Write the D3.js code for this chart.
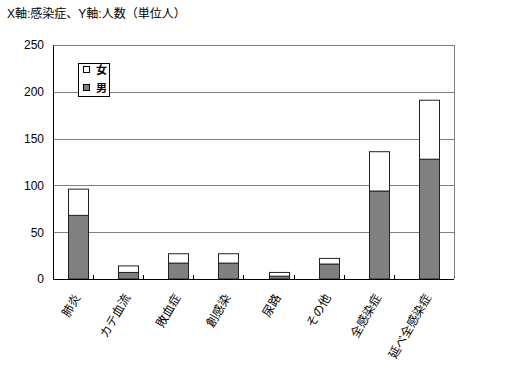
<!DOCTYPE html>
<html>
<head>
<meta charset="utf-8">
<script src="https://cdn.jsdelivr.net/npm/d3@7"></script>
<style>
  body { margin: 0; background: #fff; }
  text { font-family: "Liberation Sans", "Noto Sans CJK JP", sans-serif; }
</style>
</head>
<body>
<div class="chart"></div>
<script>
// categories and counts (persons)
var categories = ["肺炎", "カテ血流", "敗血症", "創感染", "尿路", "その他", "全感染症", "延べ全感染症"];
var male = [68, 7, 17, 17, 3, 16, 94, 128];
var female = [28, 7, 10, 10, 4, 6, 42, 63];
var yTicks = [0, 50, 100, 150, 200, 250];

var width = 520, height = 372;
var margin = {top: 45, right: 66, bottom: 93, left: 53};
var w = width - margin.left - margin.right;
var h = height - margin.top - margin.bottom;

var svg = d3.select(".chart").append("svg")
  .attr("width", width)
  .attr("height", height);

// title
svg.append("text")
  .attr("x", 7)
  .attr("y", 18)
  .attr("font-size", 12)
  .attr("fill", "#000")
  .text("X軸:感染症、Y軸:人数（単位人）");

var g = svg.append("g")
  .attr("transform", "translate(" + margin.left + "," + margin.top + ")");

var x = d3.scaleBand().domain(categories).range([0, w]).paddingInner(0.6).paddingOuter(0.3);
var y = d3.scaleLinear().domain([0, 250]).range([h, 0]);

// gridlines
g.selectAll(".grid")
  .data(yTicks.slice(1))
  .enter().append("line")
  .attr("x1", 0).attr("x2", w)
  .attr("y1", function(d) { return Math.round(y(d)) + 0.5; })
  .attr("y2", function(d) { return Math.round(y(d)) + 0.5; })
  .attr("stroke", "#808080")
  .attr("stroke-width", 1);

// right border
g.append("line")
  .attr("x1", w + 0.5).attr("x2", w + 0.5)
  .attr("y1", 0).attr("y2", h)
  .attr("stroke", "#808080");

// y axis labels
var yAxis = d3.axisLeft(y).tickValues(yTicks).tickSize(0).tickPadding(9);
var ya = g.append("g").call(yAxis);
ya.select(".domain").attr("stroke", "#000");
ya.selectAll("text").attr("font-size", 12).attr("fill", "#000")
  .attr("font-family", "Liberation Sans, sans-serif");

// stacked data
var stackData = categories.map(function(c, i) {
  return {cat: c, male: male[i], female: female[i]};
});
var series = d3.stack().keys(["male", "female"])(stackData);
var fills = {male: "#808080", female: "#ffffff"};

g.selectAll(".series")
  .data(series)
  .enter().append("g")
  .attr("fill", function(s) { return fills[s.key]; })
  .selectAll("rect")
  .data(function(s) { return s; })
  .enter().append("rect")
  .attr("x", function(d) { return Math.round(x(d.data.cat)) + 0.5; })
  .attr("width", Math.round(x.bandwidth()))
  .attr("y", function(d) { return y(d[1]); })
  .attr("height", function(d) { return y(d[0]) - y(d[1]); })
  .attr("stroke", "#222")
  .attr("stroke-width", 1);

// x axis with inner ticks at band boundaries
var step = x.step();
g.append("line")
  .attr("x1", 0).attr("x2", w)
  .attr("y1", h + 0.5).attr("y2", h + 0.5)
  .attr("stroke", "#000");
g.selectAll(".xtick")
  .data(categories.slice(1))
  .enter().append("line")
  .attr("x1", function(d) { return Math.round(x(d) - x.bandwidth() * 0.75 - step * 0.2) + 0.5; })
  .attr("x2", function(d) { return Math.round(x(d) - x.bandwidth() * 0.75 - step * 0.2) + 0.5; })
  .attr("y1", h).attr("y2", h - 4)
  .attr("stroke", "#000");

// category labels, rotated
g.selectAll(".xlabel")
  .data(categories)
  .enter().append("text")
  .attr("text-anchor", "end")
  .attr("font-size", 12)
  .attr("font-family", "Noto Sans CJK JP, sans-serif")
  .attr("transform", function(d) {
    return "translate(" + (x(d) + x.bandwidth() / 2 - 1) + "," + (h + 16) + ") rotate(-60)";
  })
  .attr("dy", "0.35em")
  .text(function(d) { return d; });

// legend
var legend = svg.append("g").attr("transform", "translate(78,63)");
legend.append("rect")
  .attr("x", 0.5).attr("y", 0.5)
  .attr("width", 31).attr("height", 33)
  .attr("fill", "#fff").attr("stroke", "#000");
var legendItems = [{key: "female", label: "女"}, {key: "male", label: "男"}];
var li = legend.selectAll(".item")
  .data(legendItems)
  .enter().append("g")
  .attr("transform", function(d, i) { return "translate(5," + (3 + i * 18) + ")"; });
li.append("rect")
  .attr("x", 0.5).attr("y", 0.5)
  .attr("width", 6).attr("height", 6)
  .attr("fill", function(d) { return fills[d.key]; })
  .attr("stroke", "#000");
li.append("text")
  .attr("x", 13).attr("y", 8)
  .attr("font-size", 11)
  .attr("font-weight", "bold")
  .attr("font-family", "Noto Sans CJK JP, sans-serif")
  .text(function(d) { return d.label; });
</script>
</body>
</html>
